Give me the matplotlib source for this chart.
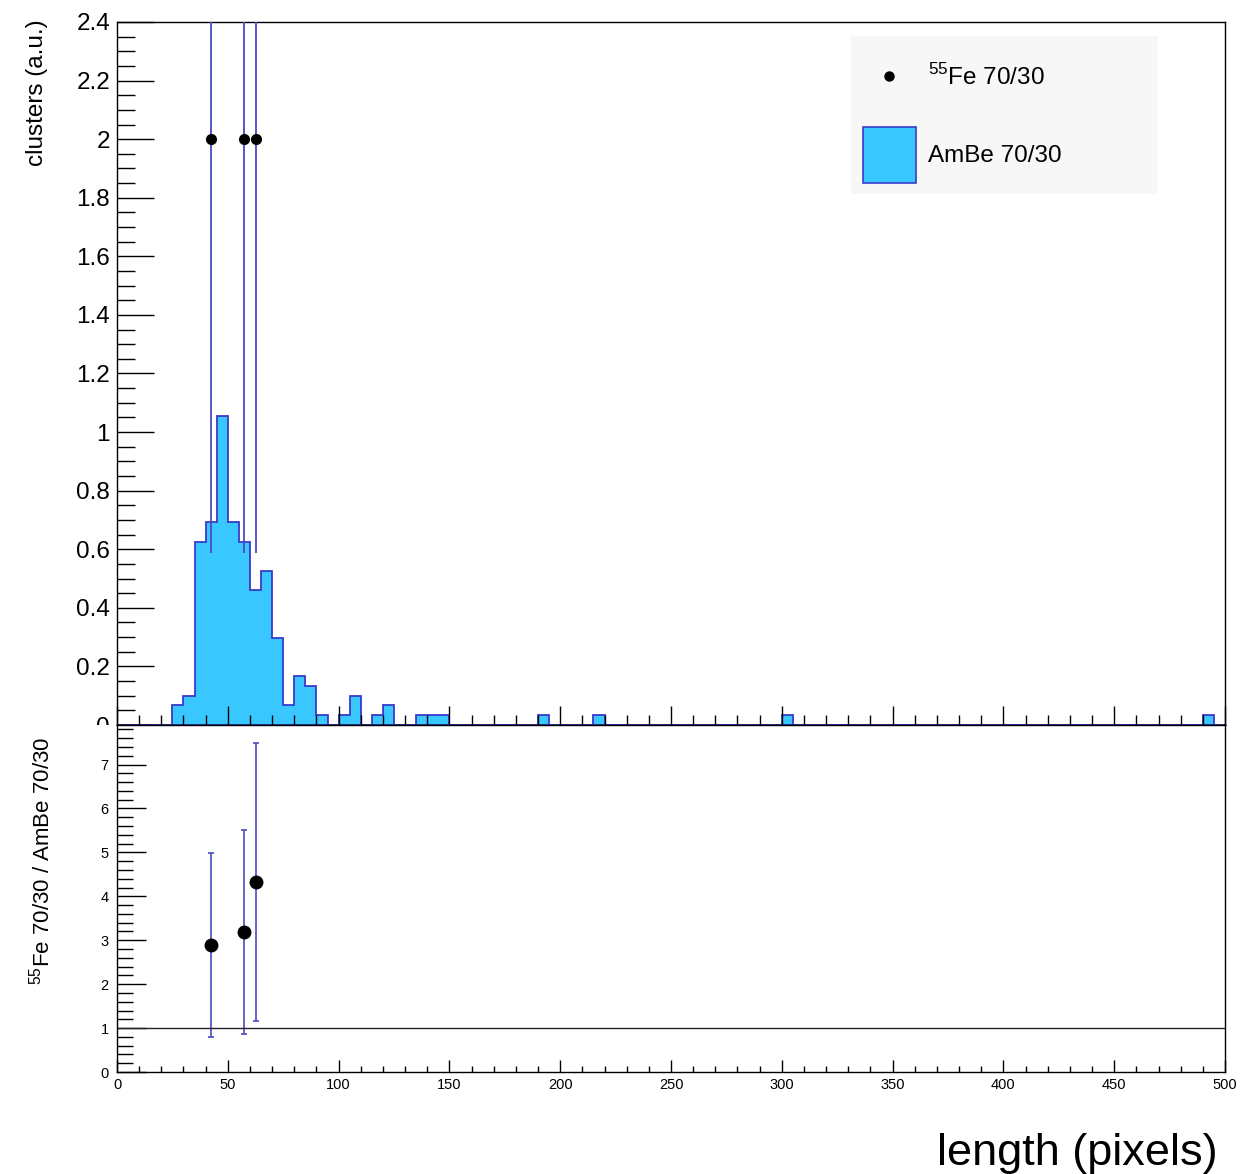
import numpy as np
import matplotlib
matplotlib.use('Agg')
import matplotlib.pyplot as plt
from matplotlib.lines import Line2D
from matplotlib.patches import Rectangle
from matplotlib.ticker import MultipleLocator, FormatStrFormatter

plt.rcParams['font.family'] = ['Liberation Sans', 'DejaVu Sans']
plt.rcParams['mathtext.fontset'] = 'custom'
plt.rcParams['mathtext.rm'] = 'Liberation Sans'

# AmBe 70/30 histogram, 5 px bins (only non-empty bins listed, by low edge)
ambe_bin_lo = [25, 30, 35, 40, 45, 50, 55, 60, 65, 70, 75, 80, 85, 90,
               100, 105, 115, 120, 135, 140, 145, 190, 215, 300, 490]
ambe_vals = [0.068, 0.100, 0.626, 0.694, 1.055, 0.694, 0.626, 0.462, 0.527,
             0.298, 0.068, 0.167, 0.133, 0.034, 0.034, 0.100, 0.034, 0.068,
             0.034, 0.034, 0.034, 0.034, 0.034, 0.034, 0.034]

# 55Fe 70/30 points
fe_x = [42.5, 57.5, 62.5]
fe_y = [2.0, 2.0, 2.0]
fe_err = [1.414, 1.414, 1.414]

# ratio Fe / AmBe
ratio_y = [2.88, 3.19, 4.33]
ratio_err_lo = [2.09, 2.32, 3.16]
ratio_err_hi = [2.11, 2.33, 3.16]

W, H = 1250, 1174
fig = plt.figure(figsize=(W / 100, H / 100), dpi=100)


def fx(px):
    return px / W


def fy(py):
    return 1 - py / H


L, R = 117, 1225
top_t, top_b, bot_b = 22, 725, 1072
ax = fig.add_axes([fx(L), fy(top_b), (R - L) / W, (top_b - top_t) / H], zorder=0)
axr = fig.add_axes([fx(L), fy(bot_b), (R - L) / W, (bot_b - top_b) / H], zorder=2)

hist_fill = '#38c8ff'
hist_edge = '#3a3acc'
err_col = '#4a4ac4'

edges = np.arange(0, 505, 5)
centers = np.array(ambe_bin_lo) + 2.5
ax.hist(centers, bins=edges, weights=ambe_vals, histtype='stepfilled',
        facecolor=hist_fill, edgecolor=hist_edge, linewidth=1.3)
ax.errorbar(fe_x, fe_y, yerr=fe_err, fmt='o', color='black', markersize=7,
            ecolor=err_col, elinewidth=1.3, capsize=0, zorder=5)

ax.set_xlim(0, 500)
ax.set_ylim(0, 2.4)
ax.xaxis.set_major_locator(MultipleLocator(50))
ax.xaxis.set_minor_locator(MultipleLocator(10))
ax.yaxis.set_major_locator(MultipleLocator(0.2))
ax.yaxis.set_minor_locator(MultipleLocator(0.05))
ax.yaxis.set_major_formatter(FormatStrFormatter('%g'))
ax.tick_params(axis='both', which='both', direction='in', width=1)
ax.tick_params(axis='y', which='major', length=26.5, labelsize=17.5, pad=5)
ax.tick_params(axis='y', which='minor', length=13)
ax.tick_params(axis='x', which='major', length=13.5, labelbottom=False)
ax.tick_params(axis='x', which='minor', length=7)

# legend box (ROOT style TLegend)
fig.add_artist(Rectangle((fx(851), fy(194)), (1158 - 851) / W, (194 - 36) / H,
                         transform=fig.transFigure, facecolor='#f7f7f7',
                         edgecolor='none', zorder=3))
fig.add_artist(Line2D([fx(889)], [fy(76)], marker='o', color='black', markersize=6.5,
                      linestyle='none', transform=fig.transFigure, zorder=4))
fig.add_artist(Rectangle((fx(863), fy(183)), 53 / W, 56 / H, transform=fig.transFigure,
                         facecolor=hist_fill, edgecolor=hist_edge, linewidth=1.2, zorder=4))
fig.text(fx(928), fy(77), r'$^{55}$Fe 70/30', ha='left', va='center', fontsize=17.5, zorder=4)
fig.text(fx(928), fy(156), 'AmBe 70/30', ha='left', va='center', fontsize=17.5, zorder=4)

# ratio panel
axr.errorbar(fe_x, ratio_y, yerr=[ratio_err_lo, ratio_err_hi], fmt='o', color='black',
             markersize=9, ecolor=err_col, elinewidth=1.2, capsize=2, capthick=1.2)
axr.axhline(1, color='#222222', linewidth=1)
axr.set_xlim(0, 500)
axr.set_ylim(0, 7.9)
axr.xaxis.set_major_locator(MultipleLocator(50))
axr.xaxis.set_minor_locator(MultipleLocator(10))
axr.yaxis.set_major_locator(MultipleLocator(1))
axr.yaxis.set_minor_locator(MultipleLocator(0.2))
axr.tick_params(axis='both', which='both', direction='in', width=1, labelsize=10.5)
axr.tick_params(axis='y', which='major', length=21, pad=6)
axr.tick_params(axis='y', which='minor', length=11.5)
axr.tick_params(axis='x', which='major', length=8.6, pad=4)
axr.tick_params(axis='x', which='minor', length=4.3)

for a in (ax, axr):
    for s in a.spines.values():
        s.set_color('black')
        s.set_linewidth(1)

# hide the lower half of the cut "0" label of the upper panel
fig.add_artist(Rectangle((0, fy(740)), fx(L) - 0.001, 15 / H, transform=fig.transFigure,
                         facecolor='white', edgecolor='none', zorder=1))

fig.text(fx(37), fy(19), 'clusters (a.u.)', rotation=90, ha='center', va='top', fontsize=17.5)
fig.text(fx(42), fy(861), r'$^{55}$Fe 70/30 / AmBe 70/30', rotation=90,
         ha='center', va='center', fontsize=16)
fig.text(fx(1218), fy(1165), 'length (pixels)', ha='right', va='baseline', fontsize=32.5)

fig.savefig('out.png', dpi=100)
